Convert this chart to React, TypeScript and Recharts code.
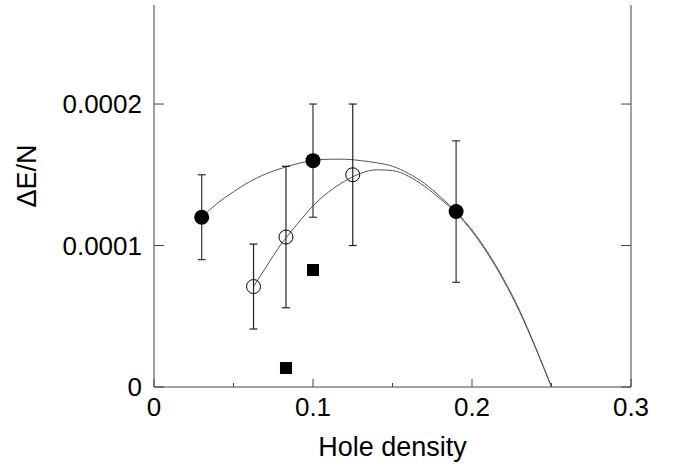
import { ComposedChart, XAxis, YAxis, Line, Scatter, ErrorBar } from 'recharts'

const filledX = [0.03, 0.1, 0.19]
const filledY = [0.00012, 0.00016, 0.000124]
const filledErr = [0.00003, 0.00004, 0.00005]

const openX = [0.0626, 0.083, 0.125]
const openY = [0.000071, 0.000106, 0.00015]
const openErr = [0.00003, 0.00005, 0.00005]

const squareX = [0.083, 0.1]
const squareY = [0.0000134, 0.0000827]

// fitted curves (units of 1e-4)
const fit1X = [0.03, 0.04, 0.05, 0.06, 0.07, 0.08, 0.09, 0.1, 0.11, 0.12, 0.13, 0.14, 0.15, 0.16, 0.17, 0.18, 0.19, 0.2, 0.21, 0.22, 0.23, 0.24, 0.25]
const fit1Y = [1.2, 1.3, 1.38, 1.45, 1.505, 1.545, 1.578, 1.6, 1.61, 1.61, 1.6, 1.585, 1.56, 1.51, 1.44, 1.345, 1.238, 1.11, 0.95, 0.76, 0.54, 0.28, 0]

const fit2X = [0.0626, 0.07, 0.08, 0.09, 0.1, 0.11, 0.12, 0.13, 0.14, 0.15, 0.16, 0.17, 0.18, 0.19, 0.2, 0.21, 0.22, 0.23, 0.24, 0.25]
const fit2Y = [0.71, 0.84, 1.01, 1.15, 1.28, 1.38, 1.455, 1.51, 1.535, 1.53, 1.49, 1.42, 1.33, 1.23, 1.1, 0.94, 0.75, 0.53, 0.275, 0]

const xTicks = [0, 0.05, 0.1, 0.15, 0.2, 0.25, 0.3]
const yTicks = [0, 0.0001, 0.0002]

const filled = filledX.map((x, i) => ({ x, y: filledY[i], err: filledErr[i] }))
const open = openX.map((x, i) => ({ x, y: openY[i], err: openErr[i] }))
const squares = squareX.map((x, i) => ({ x, y: squareY[i] }))
const fit1 = fit1X.map((x, i) => ({ x, y: fit1Y[i] * 1e-4 }))
const fit2 = fit2X.map((x, i) => ({ x, y: fit2Y[i] * 1e-4 }))

const FONT = '"Liberation Sans", Arial, sans-serif'
const AXIS = '#444'

const isMajor = (v: number) => Math.abs(v * 10 - Math.round(v * 10)) < 1e-6

const BottomTick = ({ x, y, payload }: any) => {
  const major = isMajor(payload.value)
  return (
    <g>
      <line x1={x} x2={x} y1={y} y2={y - (major ? 8 : 4)} stroke={AXIS} />
      {major && (
        <text x={x} y={y + 29} textAnchor="middle" fontSize={26} fontFamily={FONT} fill="#000">
          {payload.value === 0 ? '0' : payload.value.toFixed(1)}
        </text>
      )}
    </g>
  )
}

const TopTick = ({ x, y, payload }: any) => {
  const major = isMajor(payload.value)
  return <line x1={x} x2={x} y1={y} y2={y + (major ? 8 : 4)} stroke={AXIS} />
}

const LeftTick = ({ x, y, payload }: any) => (
  <g>
    <line x1={x} x2={x + 10} y1={y} y2={y} stroke={AXIS} />
    <text x={x - 12} y={y + 9} textAnchor="end" fontSize={26} fontFamily={FONT} fill="#000">
      {payload.value === 0 ? '0' : payload.value.toFixed(4)}
    </text>
  </g>
)

const RightTick = ({ x, y }: any) => <line x1={x} x2={x - 10} y1={y} y2={y} stroke={AXIS} />

const FilledDot = ({ cx, cy }: any) => <circle cx={cx} cy={cy} r={7.5} fill="#000" />
const OpenDot = ({ cx, cy }: any) => <circle cx={cx} cy={cy} r={7} fill="none" stroke="#000" strokeWidth={1} />
const Square = ({ cx, cy }: any) => <rect x={cx - 6} y={cy - 6} width={12} height={12} fill="#000" />

export default function App() {
  return (
    <div style={{ position: 'absolute', left: 0, top: 0, background: '#fff' }}>
      <ComposedChart width={678} height={471} margin={{ top: 5, right: 0, bottom: 0, left: 0 }}>
        <XAxis
          xAxisId="b"
          dataKey="x"
          type="number"
          domain={[0, 0.3]}
          ticks={xTicks}
          allowDataOverflow
          height={84}
          stroke={AXIS}
          tickLine={false}
          tickSize={0}
          tickMargin={0}
          tick={<BottomTick />}
          label={{
            content: (p: any) => (
              <text
                x={p.viewBox.x + p.viewBox.width / 2}
                y={p.viewBox.y + 69}
                textAnchor="middle"
                fontSize={27}
                fontFamily={FONT}
                fill="#000"
              >
                Hole density
              </text>
            ),
          }}
        />
        <XAxis
          xAxisId="t"
          orientation="top"
          dataKey="x"
          type="number"
          domain={[0, 0.3]}
          ticks={xTicks}
          allowDataOverflow
          height={0}
          stroke={AXIS}
          tickLine={false}
          tickSize={0}
          tickMargin={0}
          tick={<TopTick />}
        />
        <YAxis
          yAxisId="l"
          type="number"
          domain={[0, 0.00027]}
          ticks={yTicks}
          allowDataOverflow
          width={154}
          stroke={AXIS}
          tickLine={false}
          tickSize={0}
          tickMargin={0}
          tick={<LeftTick />}
          label={{
            content: (p: any) => {
              const cx = p.viewBox.x + 27
              const cy = p.viewBox.y + 171
              return (
                <text
                  x={cx}
                  y={cy}
                  transform={`rotate(-90 ${cx} ${cy})`}
                  textAnchor="middle"
                  dominantBaseline="central"
                  fontSize={27}
                  fontFamily={FONT}
                  fill="#000"
                >
                  ΔE/N
                </text>
              )
            },
          }}
        />
        <YAxis
          yAxisId="r"
          orientation="right"
          type="number"
          domain={[0, 0.00027]}
          ticks={yTicks}
          allowDataOverflow
          width={47}
          stroke={AXIS}
          tickLine={false}
          tickSize={0}
          tickMargin={0}
          tick={<RightTick />}
        />
        <Line
          xAxisId="b"
          yAxisId="l"
          data={fit1}
          dataKey="y"
          type="monotone"
          stroke="#555"
          strokeWidth={1}
          dot={false}
          isAnimationActive={false}
        />
        <Line
          xAxisId="b"
          yAxisId="l"
          data={fit2}
          dataKey="y"
          type="monotone"
          stroke="#555"
          strokeWidth={1}
          dot={false}
          isAnimationActive={false}
        />
        <Scatter xAxisId="b" yAxisId="l" data={filled} dataKey="y" shape={<FilledDot />} isAnimationActive={false}>
          <ErrorBar dataKey="err" direction="y" width={4} stroke="#333" strokeWidth={1.2} />
        </Scatter>
        <Scatter xAxisId="b" yAxisId="l" data={open} dataKey="y" shape={<OpenDot />} isAnimationActive={false}>
          <ErrorBar dataKey="err" direction="y" width={4} stroke="#222" strokeWidth={1.2} />
        </Scatter>
        <Scatter xAxisId="b" yAxisId="l" data={squares} dataKey="y" shape={<Square />} isAnimationActive={false} />
      </ComposedChart>
    </div>
  )
}
